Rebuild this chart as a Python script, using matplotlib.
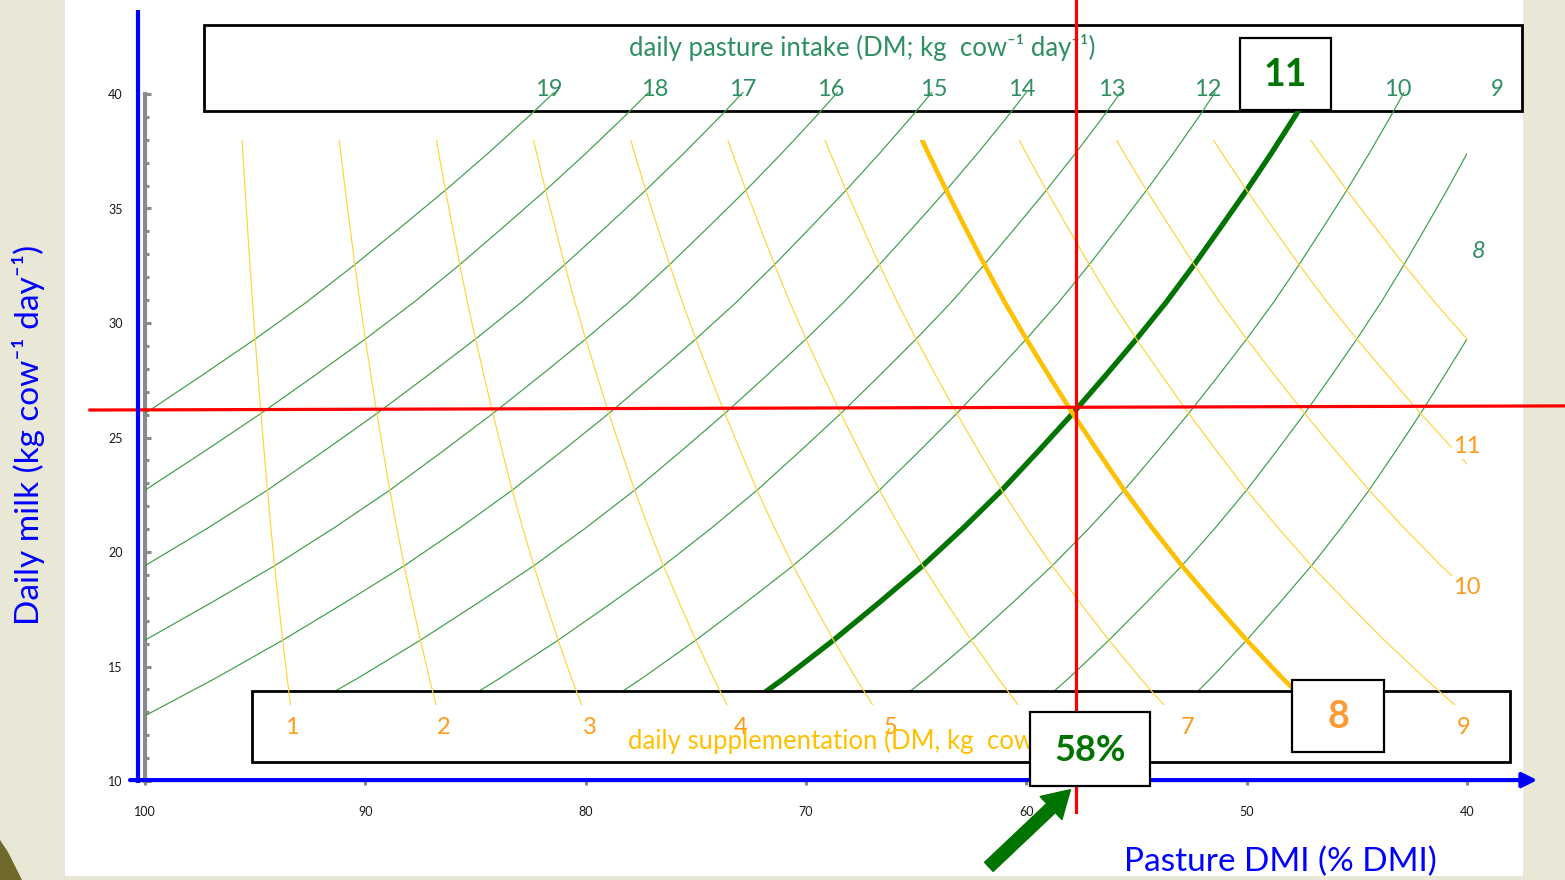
import matplotlib
matplotlib.use("Agg")
import matplotlib.pyplot as plt
from matplotlib.patches import Rectangle, Polygon
from matplotlib.ticker import MultipleLocator

plt.rcParams['font.family'] = ['Lato', 'DejaVu Sans']

# ---------------- data ----------------
# milk yield response to total dry-matter intake (pasture + supplement)
TOTAL_DMI = [15, 15.5, 16, 16.5, 17, 17.5, 18, 18.5, 19, 19.5, 20, 20.5,
             21, 21.5, 22, 22.5, 23, 23.5, 24]
MILK_AT_TOTAL = [12.85, 14.5, 16.15, 17.8, 19.4, 21.05, 22.7, 24.4, 26.05,
                 27.7, 29.3, 30.9, 32.55, 34.2, 35.8, 37.4, 39.0, 40.6, 42.2]

PASTURE_LEVELS = [19, 18, 17, 16, 15, 14, 13, 12, 11, 10, 9, 8]      # green iso-lines
SUPPLEMENT_LEVELS = [1, 2, 3, 4, 5, 6, 7, 8, 9, 10, 11, 12]          # yellow iso-lines
HIGHLIGHT_PASTURE = 11
HIGHLIGHT_SUPPLEMENT = 8
HIGHLIGHT_PCT_LABEL = "58%"
HIGHLIGHT_PCT = 57.74
HIGHLIGHT_MILK = [26.2, 26.38]

X_TICKS = [100, 90, 80, 70, 60, 50, 40]
Y_TICKS = [10, 15, 20, 25, 30, 35, 40]

PASTURE_LABELS = ["19", "18", "17", "16", "15", "14", "13", "12", "10"]
SUPPLEMENT_LABELS = ["1", "2", "3", "4", "5", "7", "9"]

# ---------------- layout (label placement in data units) ----------------
PASTURE_LABEL_X = [81.66, 76.85, 72.86, 68.86, 64.19, 60.19, 56.11, 51.75, 43.12]
PASTURE_LABEL_Y = 40.19
SUPP_LABEL_X = [93.33, 86.43, 79.80, 72.95, 66.18, 52.66, 40.17]
SUPP_LABEL_Y = 12.32

GREEN = '#3c9e48'
GREEN_TXT = '#2e9060'
DARK_GREEN = '#007400'
YELLOW = '#ffd43a'
GOLD = '#ffc000'
ORANGE = '#ff9a1a'
BLUE = '#0000ff'
RED = '#ff0000'

W, H = 1565, 880
fig = plt.figure(figsize=(W / 100, H / 100), dpi=100, facecolor='#e9e7d5')
# white slide panel
fig.add_artist(Rectangle((65 / W, 4 / H), (1523 - 65) / W, 876 / H,
                         transform=fig.transFigure, facecolor='white',
                         edgecolor='none', zorder=-2))
fig.add_artist(Polygon([(0, 0), (22 / W, 0), (8 / W, 28 / H), (0, 40 / H)],
                       closed=True, transform=fig.transFigure,
                       facecolor='#6f6a2c', edgecolor='none', zorder=-1))

ax = fig.add_axes([145 / W, (H - 781) / H, 1322 / W, 687 / H])
ax.set_facecolor('none')
ax.set_xlim(100, 40)
ax.set_ylim(10, 40)

# clip regions for the two families of iso-lines
green_clip = Rectangle((40, 0), 60.5, 40.1, transform=ax.transData)
yellow_clip = Rectangle((40, 13.3), 60.5, 24.7, transform=ax.transData)

milk_of = dict(zip(TOTAL_DMI, MILK_AT_TOTAL))

# green: constant daily pasture intake
for p in PASTURE_LEVELS:
    ts = [t for t in TOTAL_DMI if t >= p]
    xs = [100.0 * p / t for t in ts]
    ys = [milk_of[t] for t in ts]
    thick = p == HIGHLIGHT_PASTURE
    ln, = ax.plot(xs, ys, color=DARK_GREEN if thick else GREEN,
                  lw=3.8 if thick else 0.85, zorder=2.5 if thick else 2,
                  solid_capstyle='butt', solid_joinstyle='round')
    ln.set_clip_path(green_clip)

# yellow: constant daily supplementation
for s in SUPPLEMENT_LEVELS:
    ts = list(TOTAL_DMI)
    xs = [100.0 * (t - s) / t for t in ts]
    ys = [milk_of[t] for t in ts]
    thick = s == HIGHLIGHT_SUPPLEMENT
    ln, = ax.plot(xs, ys, color=GOLD if thick else YELLOW,
                  lw=3.3 if thick else 0.85, zorder=4.5 if thick else 4,
                  solid_capstyle='butt', solid_joinstyle='round')
    ln.set_clip_path(yellow_clip)

# boxes
ax.add_patch(Rectangle((37.49, 39.27), 97.32 - 37.49, 43.03 - 39.27,
                       facecolor='none', edgecolor='black', lw=2, zorder=1.5,
                       clip_on=False))
ax.add_patch(Rectangle((38.04, 10.83), 95.14 - 38.04, 13.91 - 10.83,
                       facecolor='white', edgecolor='black', lw=2, zorder=3,
                       clip_on=False))

# red cross-hair lines
ax.plot([HIGHLIGHT_PCT, HIGHLIGHT_PCT], [8.65, 44.12], color=RED, lw=2.3,
        zorder=5, clip_on=False)
ax.plot([102.5, 35.45], HIGHLIGHT_MILK, color=RED, lw=2.3, zorder=5,
        clip_on=False)

# highlighted value boxes
for (x0, y0, w, h) in [(46.16, 39.31, 4.13, 3.15), (43.76, 11.27, 4.17, 3.14),
                       (54.38, 9.78, 5.45, 3.23)]:
    ax.add_patch(Rectangle((x0, y0), w, h, facecolor='white', edgecolor='black',
                           lw=1.6, zorder=6, clip_on=False))
ax.text(48.23, 40.85, str(HIGHLIGHT_PASTURE), color=DARK_GREEN, fontsize=27,
        fontweight='bold', ha='center', va='center', zorder=7, clip_on=False)
ax.text(45.85, 12.80, str(HIGHLIGHT_SUPPLEMENT), color='#ff9933', fontsize=27,
        fontweight='bold', ha='center', va='center', zorder=7, clip_on=False)
ax.text(57.1, 11.35, HIGHLIGHT_PCT_LABEL, color=DARK_GREEN, fontsize=26,
        fontweight='bold', ha='center', va='center', zorder=7, clip_on=False)

# box titles
ax.text(67.45, 42.02, "daily pasture intake (DM; kg  cow\u207b\u00b9 day\u207b\u00b9)",
        color=GREEN_TXT, fontsize=18.5, ha='center', va='center', zorder=4.6,
        clip_on=False)
ax.text(78.08, 11.79, "daily supplementation (DM, kg  cow\u207b\u00b9 day\u207b\u00b9)",
        color=GOLD, fontsize=18.5, ha='left', va='center', zorder=5.5,
        clip_on=False)

# iso-line labels
for lab, x in zip(PASTURE_LABELS, PASTURE_LABEL_X):
    ax.text(x, PASTURE_LABEL_Y, lab, color=GREEN_TXT, fontsize=17,
            ha='center', va='center', zorder=4.6, clip_on=False)
ax.text(38.67, 40.19, "9", color=GREEN_TXT, fontsize=17, style='italic',
        ha='center', va='center', zorder=4.6, clip_on=False)
ax.text(39.49, 33.11, "8", color=GREEN_TXT, fontsize=17, style='italic',
        ha='center', va='center', zorder=4.6, clip_on=False)
for lab, x in zip(SUPPLEMENT_LABELS, SUPP_LABEL_X):
    ax.text(x, SUPP_LABEL_Y, lab, color=ORANGE, fontsize=17, ha='center',
            va='center', zorder=5, clip_on=False)
for lab, y in [("10", 18.43), ("11", 24.59)]:
    ax.text(39.99, y, lab, color=ORANGE, fontsize=17, ha='center', va='center',
            zorder=5, clip_on=False,
            bbox=dict(facecolor='white', edgecolor='none', pad=1.0))

# axes styling
for sp in ['top', 'right', 'bottom']:
    ax.spines[sp].set_visible(False)
ax.spines['left'].set_color('#8a8a8a')
ax.spines['left'].set_linewidth(3)
ax.spines['left'].set_bounds(10, 40)
ax.spines['left'].set_zorder(1)
ax.set_xticks(X_TICKS)
ax.set_yticks(Y_TICKS)
ax.yaxis.set_minor_locator(MultipleLocator(1))
ax.tick_params(axis='y', which='both', direction='in', color='#8a8a8a',
               width=2.2, labelsize=9, labelcolor='#1a1a1a')
ax.tick_params(axis='y', which='major', length=4, pad=16)
ax.tick_params(axis='y', which='minor', length=3)
ax.tick_params(axis='x', direction='out', color='#8a8a8a', width=2.2,
               length=3, pad=15, labelsize=9, labelcolor='#1a1a1a')

# blue axis lines
ax.plot([100.32, 100.32], [9.9, 43.68], color=BLUE, lw=3, zorder=5,
        clip_on=False, solid_capstyle='butt')
ax.annotate("", xy=(36.81, 10.04), xytext=(100.68, 10.04),
            arrowprops=dict(arrowstyle='-|>', color=BLUE, lw=3,
                            mutation_scale=22, shrinkA=0, shrinkB=0),
            annotation_clip=False, zorder=5)

# green pointer arrow
ax.annotate("", xy=(58.0, 9.62), xytext=(61.7, 6.25),
            arrowprops=dict(arrowstyle='simple, head_width=1.9, head_length=1.6, tail_width=0.75',
                            color=DARK_GREEN, mutation_scale=12,
                            shrinkA=0, shrinkB=0),
            annotation_clip=False, zorder=7)

# axis titles
ax.text(48.48, 6.46, "Pasture DMI (% DMI)", color=BLUE, fontsize=24,
        ha='center', va='center', clip_on=False)
ax.text(105.31, 25.12, "Daily milk (kg cow\u207b\u00b9 day\u207b\u00b9)", color=BLUE,
        fontsize=24, rotation=90, ha='center', va='center', clip_on=False)

fig.savefig("out.png", dpi=100, facecolor=fig.get_facecolor())
